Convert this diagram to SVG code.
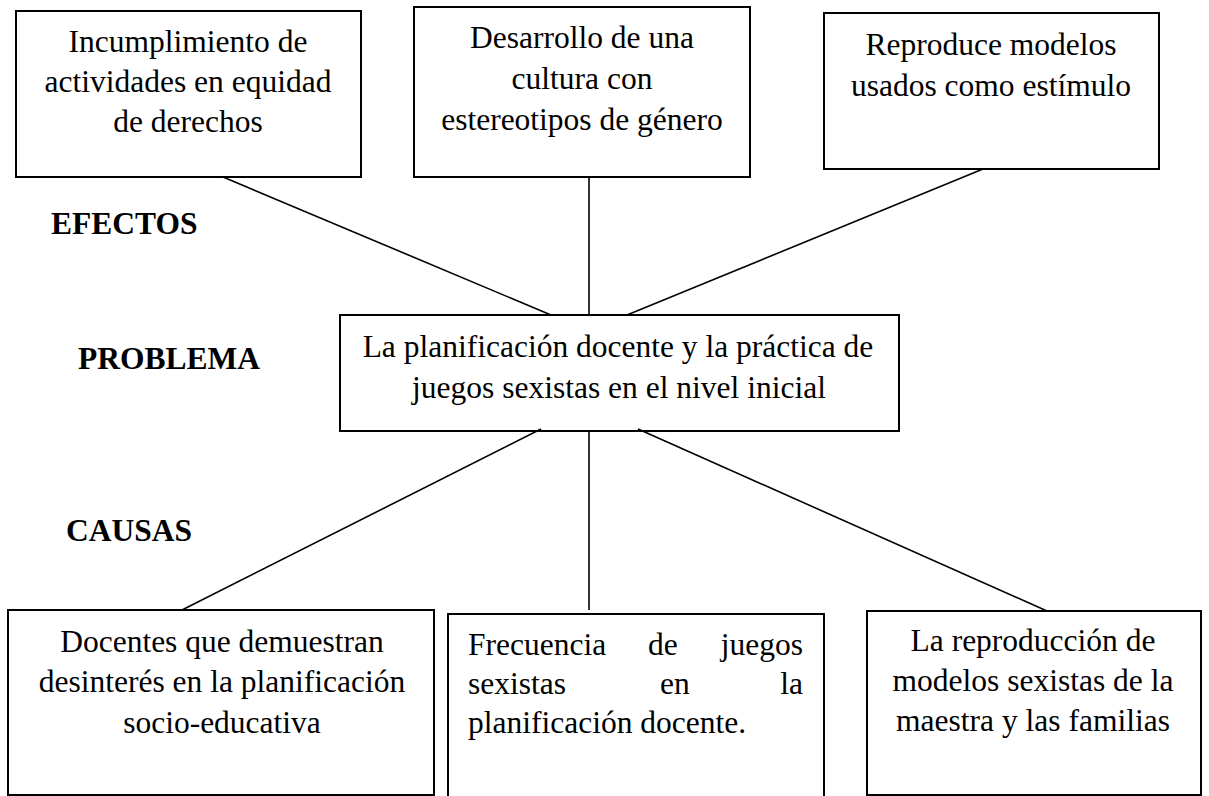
<svg xmlns="http://www.w3.org/2000/svg" width="1209" height="796" viewBox="0 0 1209 796">
<style>
.box{fill:#fff;stroke:#000;stroke-width:2}
.t{font-family:"Liberation Serif","Times New Roman",serif;font-size:31.5px;fill:#000}
.c{text-anchor:middle}
.lbl{font-family:"Liberation Serif","Times New Roman",serif;font-size:31.5px;font-weight:bold;fill:#000}
.ln{stroke:#000;stroke-width:1.6;fill:none}
</style>
<rect width="1209" height="796" fill="#fff"/>
<g id="labels">
<text class="lbl" x="51" y="234">EFECTOS</text>
<text class="lbl" x="78" y="369">PROBLEMA</text>
<text class="lbl" x="66" y="541">CAUSAS</text>
</g>
<g id="efecto1">
<rect class="box" x="16" y="11" width="345" height="166"/>
<text class="t c" x="188" y="52">Incumplimiento de</text>
<text class="t c" x="188" y="92">actividades en equidad</text>
<text class="t c" x="188" y="132">de derechos</text>
</g>
<g id="efecto2">
<rect class="box" x="414" y="7" width="336" height="170"/>
<text class="t c" x="582" y="48">Desarrollo de una</text>
<text class="t c" x="582" y="89">cultura con</text>
<text class="t c" x="582" y="130">estereotipos de género</text>
</g>
<g id="efecto3">
<rect class="box" x="824" y="13" width="335" height="156"/>
<text class="t c" x="991" y="55">Reproduce modelos</text>
<text class="t c" x="991" y="96">usados como estímulo</text>
</g>
<g id="problema">
<rect class="box" x="340" y="315" width="559" height="116"/>
<text class="t c" x="618" y="357">La planificación docente y la práctica de</text>
<text class="t c" x="619" y="398">juegos sexistas en el nivel inicial</text>
</g>
<g id="causa1">
<rect class="box" x="8" y="610" width="426" height="185"/>
<text class="t c" x="222" y="652">Docentes que demuestran</text>
<text class="t c" x="222" y="692">desinterés en la planificación</text>
<text class="t c" x="222" y="733">socio-educativa</text>
</g>
<g id="causa2">
<rect class="box" x="448" y="614" width="376" height="200"/>
<text class="t" x="468" y="655">Frecuencia</text>
<text class="t" x="648" y="655">de</text>
<text class="t" x="803" y="655" text-anchor="end">juegos</text>
<text class="t" x="468" y="694">sexistas</text>
<text class="t" x="660" y="694">en</text>
<text class="t" x="803" y="694" text-anchor="end">la</text>
<text class="t" x="468" y="733">planificación docente.</text>
</g>
<g id="causa3">
<rect class="box" x="867" y="611" width="334" height="184"/>
<text class="t c" x="1033" y="651">La reproducción de</text>
<text class="t c" x="1033" y="691">modelos sexistas de la</text>
<text class="t c" x="1033" y="731">maestra y las familias</text>
</g>
<g id="connectors">
<line class="ln" x1="223" y1="177" x2="551" y2="315"/>
<line class="ln" x1="589" y1="177" x2="589" y2="315"/>
<line class="ln" x1="983" y1="169" x2="627" y2="315"/>
<line class="ln" x1="541" y1="429" x2="182" y2="610"/>
<line class="ln" x1="589" y1="431" x2="589" y2="610"/>
<line class="ln" x1="638" y1="429" x2="1047" y2="611"/>
</g>
</svg>
